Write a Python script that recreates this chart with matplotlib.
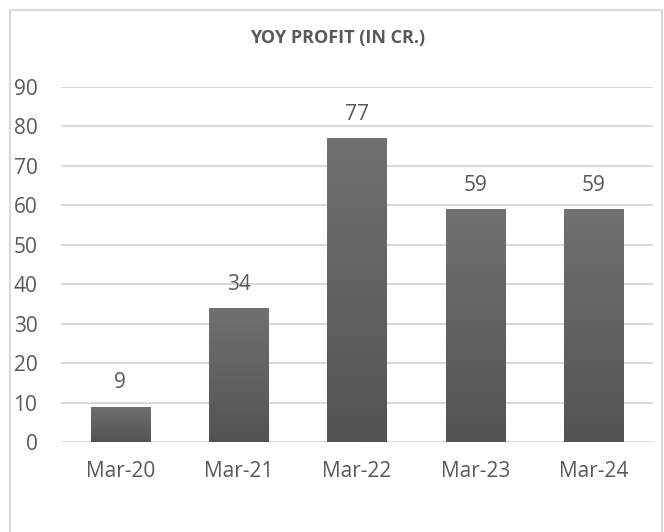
import numpy as np
import matplotlib.pyplot as plt
from matplotlib.patches import Rectangle
from matplotlib.colors import LinearSegmentedColormap

# Data
periods = ['Mar-20', 'Mar-21', 'Mar-22', 'Mar-23', 'Mar-24']
profit = [9, 34, 77, 59, 59]

plt.rcParams['font.family'] = ['Open Sans', 'DejaVu Sans']
text_color = '#595959'

fig = plt.figure(figsize=(6.64, 5.32), dpi=100)
ax = fig.add_axes([61 / 664, 90 / 532, 592 / 664, 355 / 532])

# outer chart border (open at the bottom, as in the original crop)
fig.patches.append(Rectangle((10 / 664, -10 / 532), 652 / 664, 532 / 532,
                             transform=fig.transFigure, fill=False,
                             edgecolor='#d9d9d9', linewidth=1.5))

x = np.arange(len(periods))
bars = ax.bar(x, profit, width=0.5, color='#5f5f5f', zorder=3)

# vertical gradient on each bar (lighter top, darker bottom)
grad = np.linspace(0, 1, 256).reshape(-1, 1)
cmap = LinearSegmentedColormap.from_list('g', ['#535353', '#717171'])
for b in bars:
    x0, w, h = b.get_x(), b.get_width(), b.get_height()
    im = ax.imshow(grad, cmap=cmap, extent=[x0, x0 + w, 0, h],
                   origin='lower', aspect='auto', zorder=4)
    im.set_clip_path(b)

for xi, v in zip(x, profit):
    ax.annotate(str(v), (xi, v), xytext=(0, 17), textcoords='offset points',
                ha='center', va='center', fontsize=15, color=text_color)

ax.set_xlim(-0.5, len(periods) - 0.5)
ax.set_ylim(0, 90)
ax.set_yticks(range(0, 91, 10))
ax.set_xticks(x)
ax.set_xticklabels(periods)
ax.tick_params(axis='both', length=0, labelsize=15, colors=text_color)
ax.tick_params(axis='y', pad=17)
ax.tick_params(axis='x', pad=14)
ax.grid(axis='y', color='#d9d9d9', linewidth=1.5, zorder=0)
for s in ax.spines.values():
    s.set_visible(False)

fig.text(332 / 664 + 6 / 664, 1 - 38 / 532, 'YOY PROFIT (IN CR.)', ha='center',
         va='center', fontsize=13, fontweight='bold', color=text_color)

plt.savefig('out.png', dpi=100)
